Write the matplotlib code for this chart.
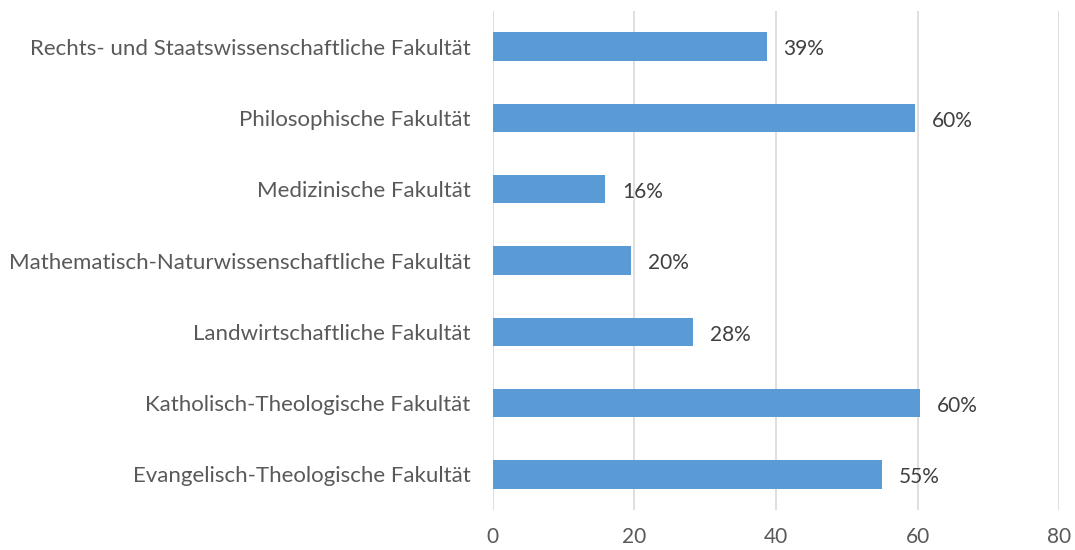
import matplotlib.pyplot as plt
import numpy as np

plt.rcParams['font.family'] = ['Lato', 'DejaVu Sans']

fakultaeten = [
    "Evangelisch-Theologische Fakultät",
    "Katholisch-Theologische Fakultät",
    "Landwirtschaftliche Fakultät",
    "Mathematisch-Naturwissenschaftliche Fakultät",
    "Medizinische Fakultät",
    "Philosophische Fakultät",
    "Rechts- und Staatswissenschaftliche Fakultät",
]
werte = [55.0, 60.3, 28.3, 19.6, 15.9, 59.6, 38.7]
beschriftung = ["55%", "60%", "28%", "20%", "16%", "60%", "39%"]
xticks = [0, 20, 40, 60, 80]

fig = plt.figure(figsize=(10.75, 5.5), dpi=100)
ax = fig.add_axes([0.4583, 0.0727, 0.5271, 0.9073])

y = np.arange(len(fakultaeten))
ax.barh(y, werte, height=0.4, color='#5b9bd5', zorder=3)

for yi, w, t in zip(y, werte, beschriftung):
    ax.annotate(t, (w, yi), xytext=(12, -2), textcoords='offset points',
                va='center', ha='left', fontsize=15, color='#404040')

ax.set_xlim(0, 80)
ax.set_ylim(-0.5, len(fakultaeten) - 0.5)
ax.set_xticks(xticks)
ax.set_yticks(y)
ax.set_yticklabels(fakultaeten)
ax.grid(axis='x', color='#d9d9d9', linewidth=1.2, zorder=0)
for s in ax.spines.values():
    s.set_visible(False)
ax.tick_params(axis='y', length=0, pad=16, labelsize=16, labelcolor='#595959')
ax.tick_params(axis='x', length=0, pad=12, labelsize=15, labelcolor='#595959')

plt.savefig('out.png', dpi=100)
